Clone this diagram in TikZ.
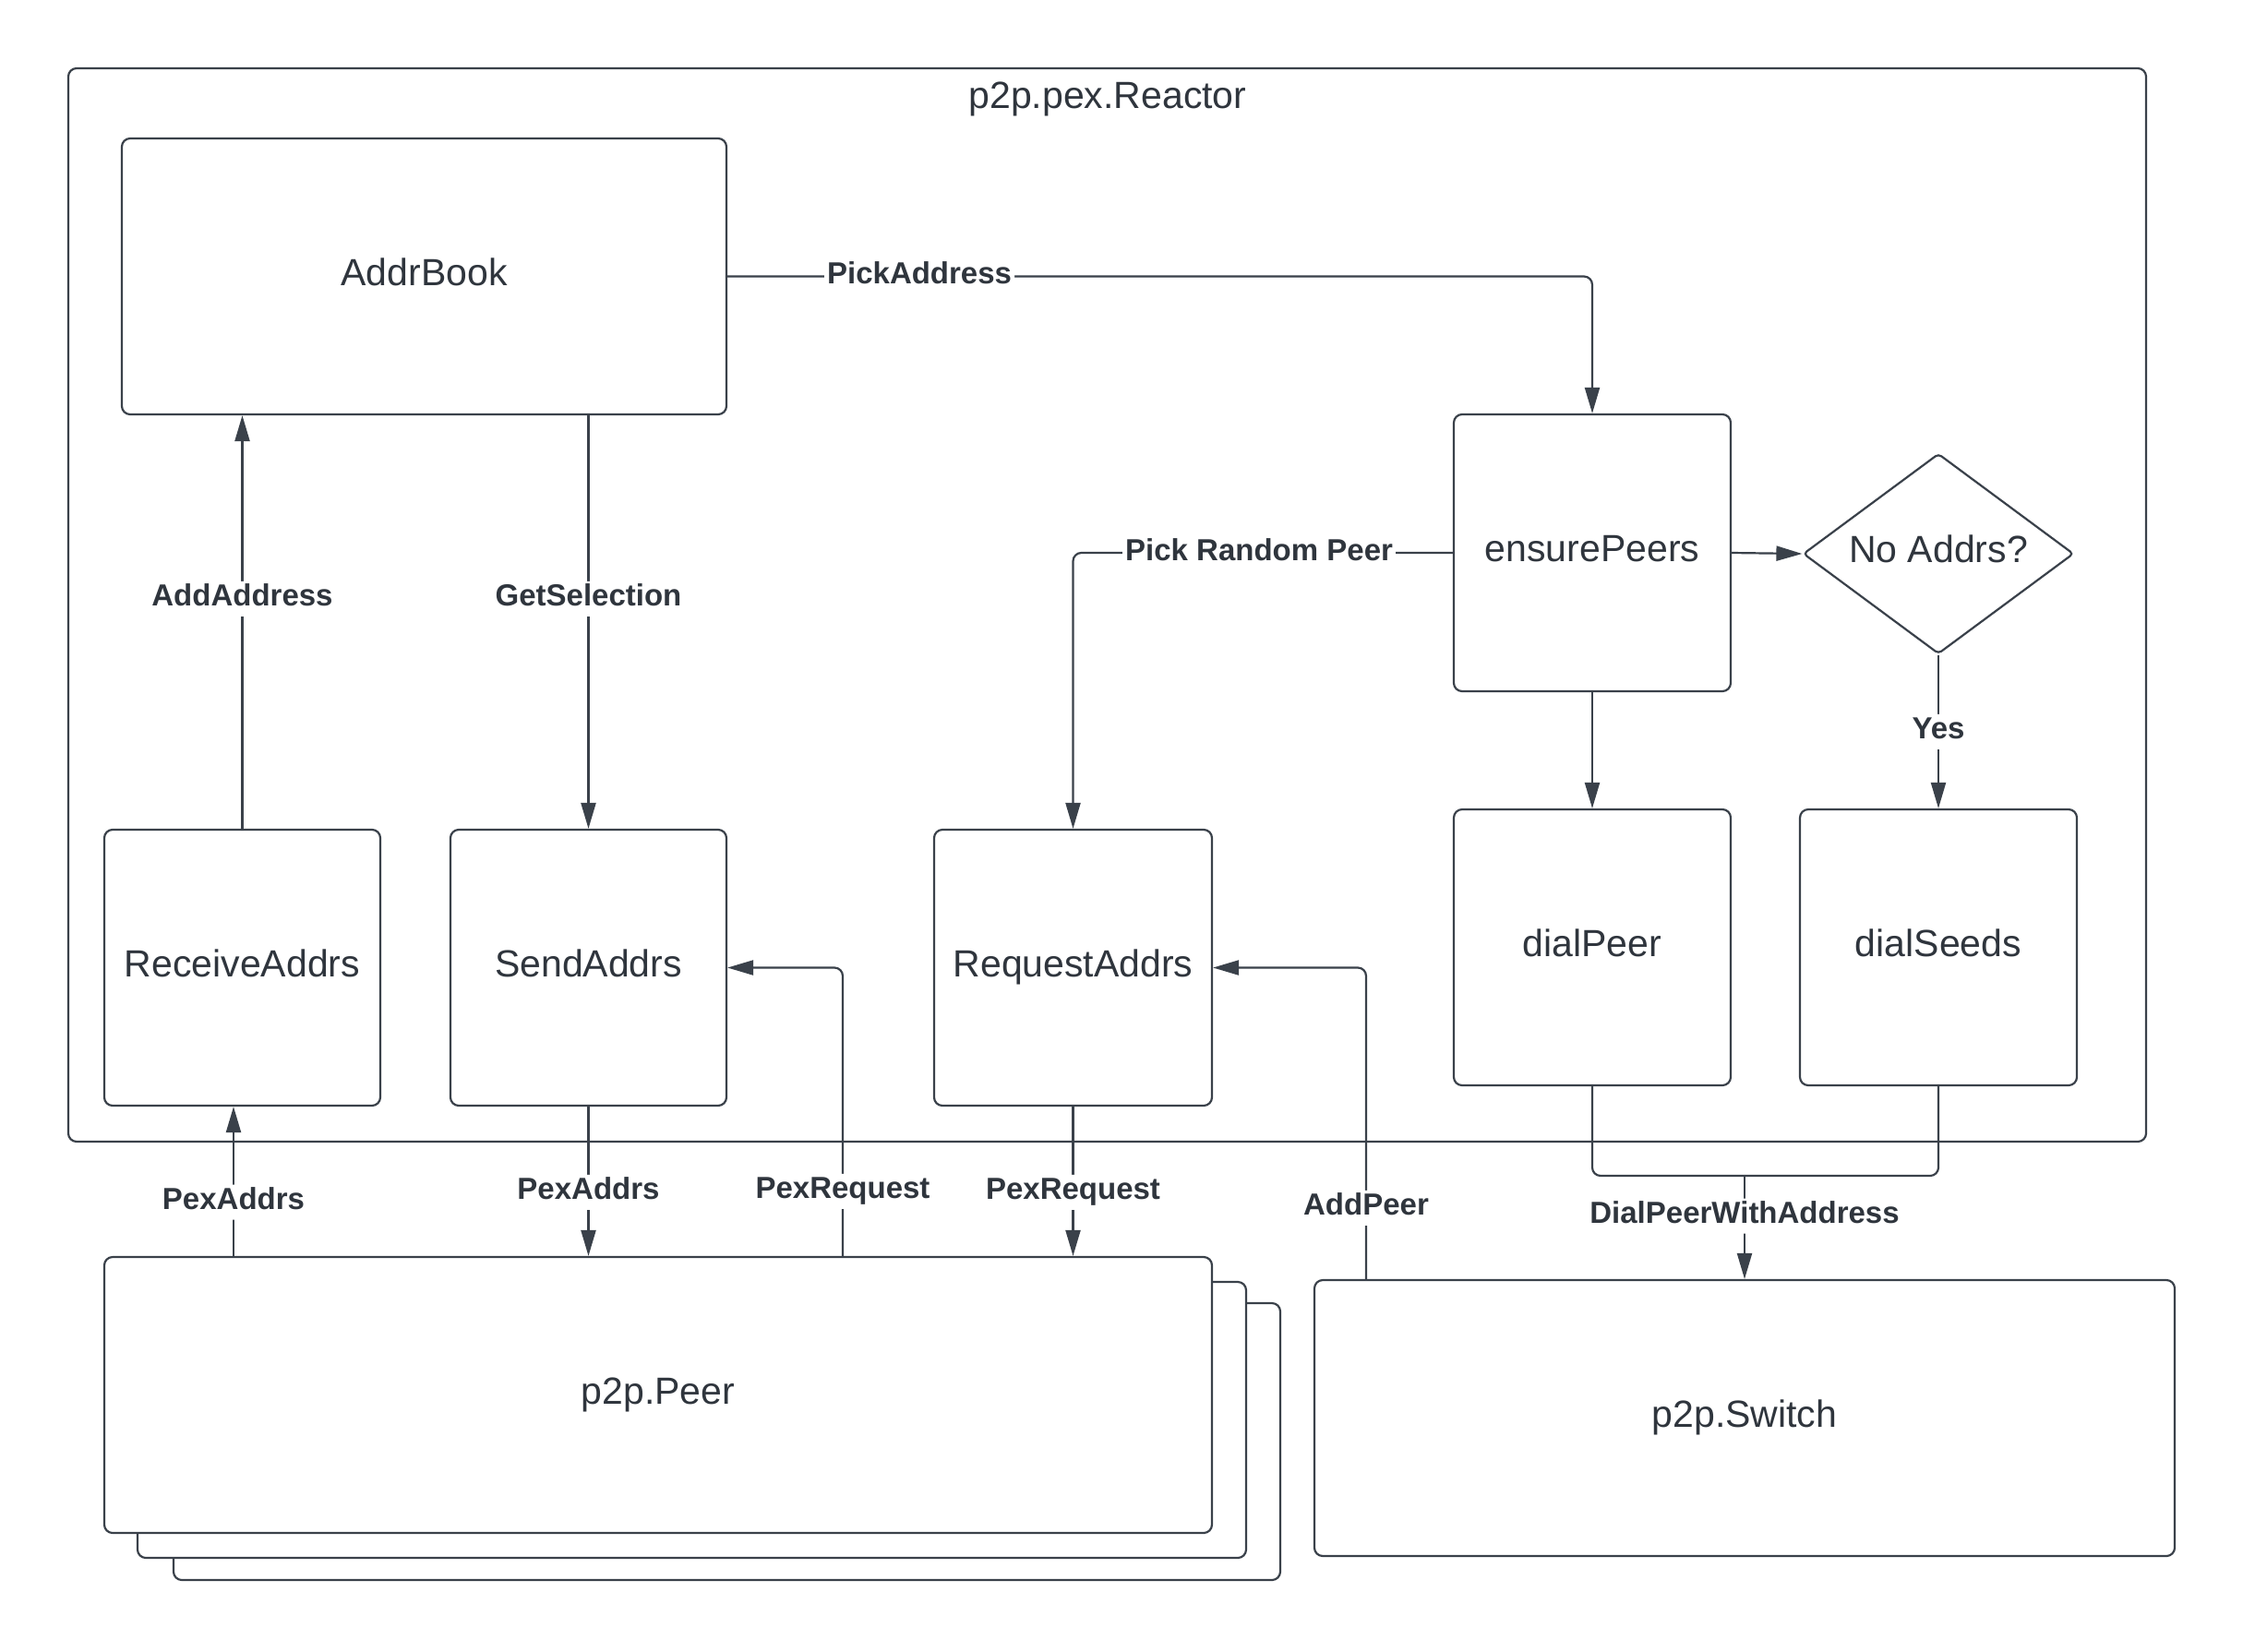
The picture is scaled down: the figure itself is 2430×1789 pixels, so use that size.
\documentclass[tikz,border=0pt]{standalone}
\usepackage{fontspec}
\setmainfont{Liberation Sans}
\usetikzlibrary{arrows.meta,shapes.geometric,calc}
\definecolor{ink}{HTML}{3A414A}
\definecolor{txt}{HTML}{2F353D}

\begin{document}
\begin{tikzpicture}[x=1pt,y=-1pt,
  box/.style={draw=ink, line width=2.2pt, rounded corners=9pt, fill=white, inner sep=0pt,
              text height=30pt, text depth=11pt,
              font=\fontsize{41}{49}\selectfont, text=txt},
  decision/.style={draw=ink, line width=2.2pt, diamond, aspect=1.35, rounded corners=4pt, fill=white,
              inner sep=0pt, text height=30pt, text depth=11pt,
              font=\fontsize{41}{49}\selectfont, text=txt},
  arr/.style={draw=ink, line width=2.2pt, rounded corners=9pt, -{Triangle[length=28pt,width=16pt]}},
  con/.style={draw=ink, line width=2.2pt, rounded corners=9pt},
  lbl/.style={fill=white, inner sep=3pt, text height=24pt, text depth=8pt,
              font=\fontsize{33}{40}\selectfont\bfseries, text=txt},
]
\useasboundingbox (0,0) rectangle (2430,1789);

% reactor frame and its title
\node[box, minimum width=2251pt, minimum height=1163pt] (reactor) at (1199.5,655.5) {};
\node[text=txt, font=\fontsize{41}{49}\selectfont] (title) at (1200,107) {p2p.pex.Reactor};

% components inside the reactor
\node[box, minimum width=655pt, minimum height=299pt] (addrbook) at (459.5,299.5) {AddrBook};
\node[box, minimum width=300pt, minimum height=300pt] (ensure) at (1725,599) {ensurePeers};
\node[decision, minimum width=293pt, minimum height=217pt] (noaddrs) at (2100,600) {No Addrs?};
\node[box, minimum width=299pt, minimum height=299pt] (recv) at (262.5,1048.5) {ReceiveAddrs};
\node[box, minimum width=299pt, minimum height=299pt] (send) at (637.5,1048.5) {SendAddrs};
\node[box, minimum width=301pt, minimum height=299pt] (req) at (1162.5,1048.5) {RequestAddrs};
\node[box, minimum width=300pt, minimum height=299pt] (dialpeer) at (1725,1026.5) {dialPeer};
\node[box, minimum width=300pt, minimum height=299pt] (dialseeds) at (2100,1026.5) {dialSeeds};

% stacked peers and the switch
\node[box, minimum width=1199pt, minimum height=300pt] (peer3) at (787.5,1562) {};
\node[box, minimum width=1201pt, minimum height=299pt] (peer2) at (749.5,1538.5) {};
\node[box, minimum width=1200pt, minimum height=299pt] (peer) at (713,1511.5) {p2p.Peer};
\node[box, minimum width=932pt, minimum height=299pt] (switch) at (1890,1536.5) {p2p.Switch};

% column positions of the off-centre connectors
\coordinate (xin) at (253,0);
\coordinate (xreq) at (913,0);
\coordinate (xadd) at (1480,0);
\coordinate (join) at (1890,1274);

% connectors inside the reactor
\draw[arr] (addrbook.east) -| (ensure.north) node[lbl, pos=0.111] {PickAddress};
\draw[arr] (ensure.west) -| (req.north) node[lbl, pos=0.255] {Pick Random Peer};
\draw[arr] (ensure.east) -- (noaddrs.west);
\draw[arr] (ensure.south) -- (dialpeer.north);
\draw[arr] (noaddrs.south) -- (dialseeds.north) node[lbl, pos=0.50] {Yes};
\draw[arr] (recv.north) -- (recv.north |- addrbook.south) node[lbl, pos=0.556] {AddAddress};
\draw[arr] (addrbook.south -| send.north) -- (send.north) node[lbl, pos=0.444] {GetSelection};

% connectors to and from the peers
\draw[arr] (peer.north -| xin) -- (recv.south -| xin) node[lbl, pos=0.36] {PexAddrs};
\draw[arr] (send.south) -- (peer.north -| send.south) node[lbl, pos=0.573] {PexAddrs};
\draw[arr] (peer.north -| xreq) |- (send.east) node[lbl, pos=0.112] {PexRequest};
\draw[arr] (req.south) -- (peer.north -| req.south) node[lbl, pos=0.573] {PexRequest};

% connectors to and from the switch
\draw[arr] (switch.north -| xadd) |- (req.east) node[lbl, pos=0.114] {AddPeer};
\draw[con] (dialpeer.south) |- (join);
\draw[con] (dialseeds.south) |- (join);
\draw[arr] (join) -- (switch.north) node[lbl, pos=0.39] {DialPeerWithAddress};
\end{tikzpicture}
\end{document}
